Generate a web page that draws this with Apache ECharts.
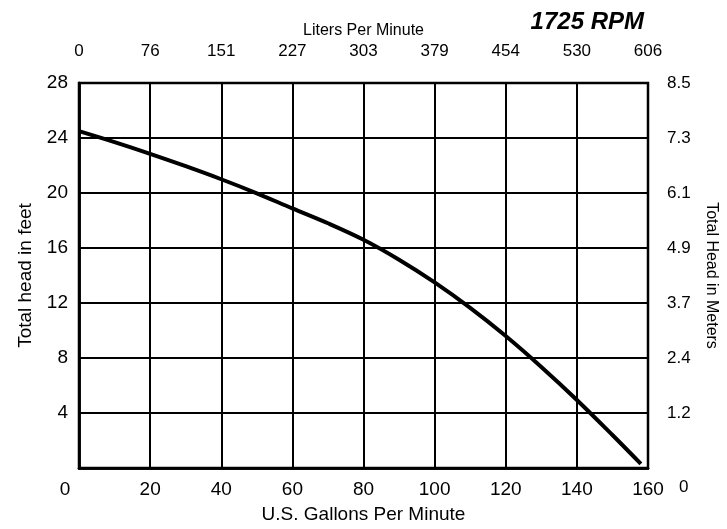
<!DOCTYPE html>
<html>
<head>
<meta charset="utf-8">
<script src="https://cdn.jsdelivr.net/npm/echarts@6/dist/echarts.min.js"></script>
<style>html,body{margin:0;padding:0;background:#fff}#c{width:727px;height:529px}</style>
</head>
<body>
<div id="c"></div>
<script>
const gpmTicks = [0, 20, 40, 60, 80, 100, 120, 140, 160];
const lpmLabels = ['0', '76', '151', '227', '303', '379', '454', '530', '606'];
const feetTicks = [0, 4, 8, 12, 16, 20, 24, 28];
const meterLabels = ['0', '1.2', '2.4', '3.7', '4.9', '6.1', '7.3', '8.5'];
const flowGpm = [0, 10, 20, 30, 40, 50, 60, 70, 80, 90, 100, 110, 120, 130, 140, 150, 158];
const headFt = [24.5, 23.7, 22.85, 21.95, 21.0, 19.98, 18.88, 17.8, 16.6, 15.15, 13.5, 11.65, 9.6, 7.35, 4.95, 2.4, 0.3];

const FONT = 'Liberation Sans, Arial, Helvetica, sans-serif';
const chart = echarts.init(document.getElementById('c'));
chart.setOption({
  animation: false,
  backgroundColor: '#fff',
  title: {
    text: '1725 RPM',
    right: 78, top: 5,
    textStyle: { fontFamily: FONT, fontSize: 24, fontWeight: 'bold', fontStyle: 'italic', color: '#000' }
  },
  grid: { left: 79, right: 79, top: 83, bottom: 57, show: true, borderColor: '#000', borderWidth: 2.5, backgroundColor: 'transparent' },
  xAxis: [
    {
      type: 'value', position: 'bottom', min: 0, max: 160, interval: 20,
      name: 'U.S. Gallons Per Minute', nameLocation: 'middle', nameGap: 37,
      nameTextStyle: { fontFamily: FONT, fontSize: 19, color: '#000' },
      axisLine: { show: true, lineStyle: { color: '#000', width: 2.5 } },
      axisTick: { show: false },
      splitLine: { show: true, lineStyle: { color: '#000', width: 2 } },
      axisLabel: {
        margin: 12, fontFamily: FONT, fontSize: 19, color: '#000',
        formatter: v => v === 0 ? '{z|' + gpmTicks[0] + '}' : String(v),
        rich: { z: { fontFamily: FONT, fontSize: 19, color: '#000', padding: [0, 28, 0, 0] } }
      }
    },
    {
      type: 'value', position: 'top', min: 0, max: 160, interval: 20,
      name: 'Liters Per Minute', nameLocation: 'middle', nameGap: 43,
      nameTextStyle: { fontFamily: FONT, fontSize: 16, color: '#000' },
      axisLine: { show: true, lineStyle: { color: '#000', width: 2.5 } },
      axisTick: { show: false },
      splitLine: { show: false },
      axisLabel: {
        margin: 23, fontFamily: FONT, fontSize: 17, color: '#000',
        formatter: v => lpmLabels[gpmTicks.indexOf(v)]
      }
    }
  ],
  yAxis: [
    {
      type: 'value', position: 'left', min: 0, max: 28, interval: 4,
      name: 'Total head in feet', nameLocation: 'middle', nameGap: 44,
      nameTextStyle: { fontFamily: FONT, fontSize: 19, color: '#000' },
      axisLine: { show: true, lineStyle: { color: '#000', width: 2.5 } },
      axisTick: { show: false },
      splitLine: { show: true, lineStyle: { color: '#000', width: 2 } },
      axisLabel: {
        margin: 11, fontFamily: FONT, fontSize: 19, color: '#000', showMinLabel: false,
        formatter: v => String(v)
      }
    },
    {
      type: 'value', position: 'right', min: 0, max: 28, interval: 4,
      name: 'Total Head in Meters', nameLocation: 'middle', nameGap: 55, nameRotate: -90,
      nameTextStyle: { fontFamily: FONT, fontSize: 16, color: '#000' },
      axisLine: { show: true, lineStyle: { color: '#000', width: 2.5 } },
      axisTick: { show: false },
      splitLine: { show: false },
      axisLabel: {
        margin: 19, fontFamily: FONT, fontSize: 17, color: '#000',
        formatter: v => {
          const s = meterLabels[feetTicks.indexOf(v)];
          return v === 0 ? '{z|' + s + '}' : s;
        },
        rich: { z: { fontFamily: FONT, fontSize: 17, color: '#000', padding: [38, 0, 0, 12] } }
      }
    }
  ],
  series: [{
    type: 'line', xAxisIndex: 0, yAxisIndex: 0,
    data: flowGpm.map((x, i) => [x, headFt[i]]),
    smooth: 0.35, showSymbol: false, symbol: 'none',
    lineStyle: { color: '#000', width: 4 },
    z: 5
  }]
});
</script>
</body>
</html>
